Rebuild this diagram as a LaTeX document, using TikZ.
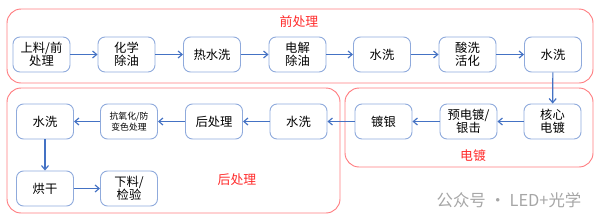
\documentclass[tikz,border=0pt]{standalone}
\usepackage{fontspec}
\newfontfamily\cjk{Noto Sans CJK SC}
\usetikzlibrary{arrows.meta}
\definecolor{boxline}{HTML}{8FAADC}
\definecolor{flow}{HTML}{4472C4}
\definecolor{frameline}{HTML}{FF7C80}
\definecolor{framelabel}{HTML}{FF2A2A}
\begin{document}
\begin{tikzpicture}[x=0.03cm,y=-0.03cm,
  stepbox/.style={draw=boxline,line width=0.8pt,rounded corners=6pt,minimum width=1.71cm,minimum height=1.05cm,align=center,inner sep=1pt,font=\cjk\fontsize{10.5}{11.5}\selectfont},
  smallbox/.style={stepbox,font=\cjk\fontsize{7.5}{9}\selectfont},
  groupframe/.style={draw=frameline,line width=0.8pt,rounded corners=12pt},
  grouplabel/.style={text=framelabel,font=\cjk\fontsize{11}{12}\selectfont},
  flowarrow/.style={draw=flow,line width=1pt,-{Straight Barb[length=3.5pt,width=6pt]}}]
\useasboundingbox (0,0) rectangle (600,222);
\draw[groupframe] (7,9) rectangle (593,83);
\draw[groupframe] (7,88) rectangle (340,213);
\draw[groupframe] (345,88) rectangle (593,167);
\node[grouplabel] (pre) at (299,22) {前处理};
\node[grouplabel] (post) at (237,180) {后处理};
\node[grouplabel] (plate) at (473,156) {电镀};
\node[stepbox] (a1) at (41.5,54.5) {上料/前\\处理};
\node[stepbox] (a2) at (126.5,54.5) {化学\\除油};
\node[stepbox] (a3) at (212,54.5) {热水洗};
\node[stepbox] (a4) at (297.5,54.5) {电解\\除油};
\node[stepbox] (a5) at (382,54.5) {水洗};
\node[stepbox] (a6) at (467.5,54.5) {酸洗\\活化};
\node[stepbox] (a7) at (553,54.5) {水洗};
\node[stepbox] (b7) at (552.5,121.5) {核心\\电镀};
\node[stepbox] (b6) at (468.5,121.5) {预电镀/\\银击};
\node[stepbox] (b5) at (383.5,121.5) {镀银};
\node[stepbox] (b4) at (298.5,121.5) {水洗};
\node[stepbox] (b3) at (214,121.5) {后处理};
\node[smallbox] (b2) at (129,121.5) {抗氧化/防\\变色处理};
\node[stepbox] (b1) at (45,121.5) {水洗};
\node[stepbox] (c1) at (45,188.5) {烘干};
\node[stepbox] (c2) at (129,188.5) {下料/\\检验};
\foreach \i/\j in {a1/a2,a2/a3,a3/a4,a4/a5,a5/a6,a6/a7,a7/b7,b7/b6,b6/b5,b5/b4,b4/b3,b3/b2,b2/b1,b1/c1,c1/c2}
  \draw[flowarrow] (\i) -- (\j);
\node[text=black!35,font=\cjk\fontsize{14}{16}\selectfont] (mark) at (509,200) {公众号 · LED+光学};
\end{tikzpicture}
\end{document}
